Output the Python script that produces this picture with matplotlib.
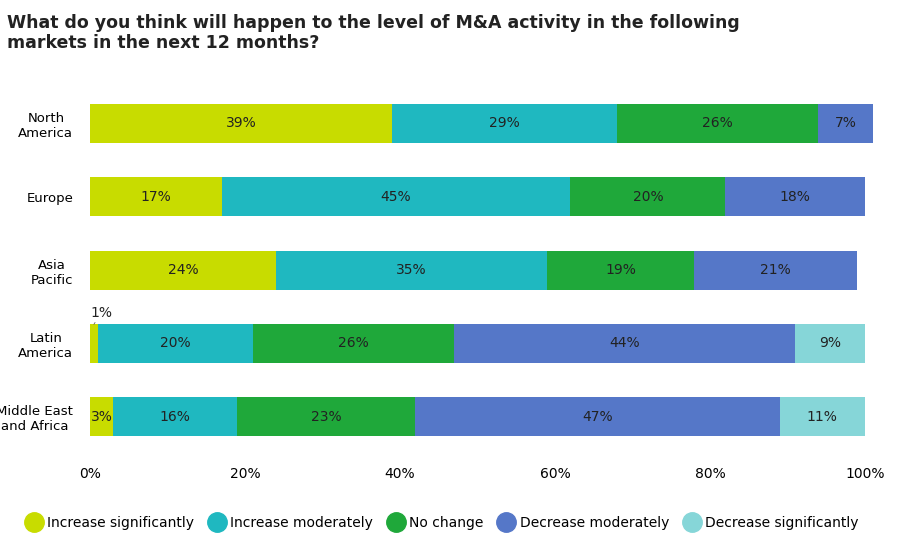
import numpy as np
import matplotlib.pyplot as plt

regions = ["North\nAmerica", "Europe", "Asia\nPacific", "Latin\nAmerica", "Middle East\nand Africa"]
series = ["Increase significantly", "Increase moderately", "No change",
          "Decrease moderately", "Decrease significantly"]
inc_sig = [39, 17, 24, 1, 3]
inc_mod = [29, 45, 35, 20, 16]
no_change = [26, 20, 19, 26, 23]
dec_mod = [7, 18, 21, 44, 47]
dec_sig = [0, 0, 0, 9, 11]
colors = ["#c8dc00", "#1fb8c0", "#1fa83a", "#5577c8", "#86d6d8"]

fig = plt.figure(figsize=(9, 5.42), dpi=100)
ax = fig.add_axes([0.1, 0.17, 0.861, 0.67])

y = np.arange(len(regions))
left = np.zeros(len(regions))
for vals, col in zip([inc_sig, inc_mod, no_change, dec_mod, dec_sig], colors):
    vals = np.array(vals, dtype=float)
    bars = ax.barh(y, vals, left=left, height=0.53, color=col)
    for b in bars:
        b.set_clip_on(False)
    for i, v in enumerate(vals):
        if v >= 3:
            ax.text(left[i] + v / 2, y[i], f"{int(v)}%", ha="center", va="center",
                    fontsize=10, color="#222222")
    left += vals

ax.annotate("1%", xy=(0.5, 3 - 0.26), xytext=(0, 3 - 0.42), ha="left", va="center",
            fontsize=10, color="#222222",
            arrowprops=dict(arrowstyle="-", color="#666666", lw=0.6))

ax.set_xlim(0, 100)
ax.set_ylim(4.45, -0.5)
ax.set_yticks(y)
ax.set_yticklabels(regions, fontsize=9.5, multialignment="center")
ax.set_xticks([0, 20, 40, 60, 80, 100])
ax.set_xticklabels(["0%", "20%", "40%", "60%", "80%", "100%"], fontsize=10)
ax.tick_params(length=0, axis="y", pad=12)
ax.tick_params(length=0, axis="x", pad=12)
for s in ax.spines.values():
    s.set_visible(False)

fig.text(0.008, 0.975, "What do you think will happen to the level of M&A activity in the following\nmarkets in the next 12 months?",
         fontsize=12.5, fontweight="bold", va="top", ha="left", color="#222222")

handles = [plt.Line2D([], [], marker="o", linestyle="", markersize=14, color=c) for c in colors]
fig.legend(handles, series, loc="lower center", ncol=5, frameon=False, fontsize=10,
           bbox_to_anchor=(0.49, 0.0), handletextpad=0.2, columnspacing=0.9,
           handlelength=1.5)

fig.savefig("out.png", dpi=100)
